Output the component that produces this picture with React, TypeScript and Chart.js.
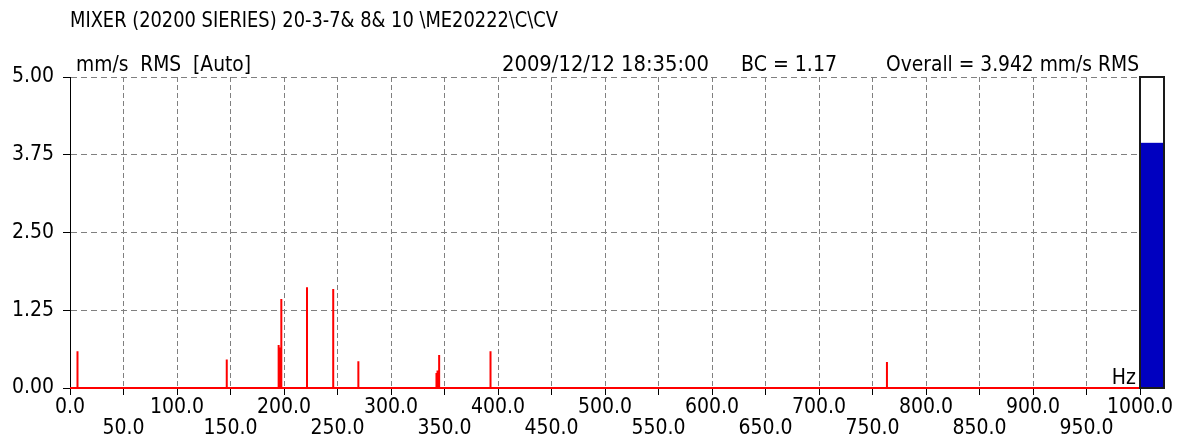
import React, { useEffect, useRef } from 'react';
import { Chart, registerables } from 'chart.js';

Chart.register(...registerables);

// ---- Text ----
const TITLE = 'MIXER (20200 SIERIES) 20-3-7& 8& 10 \\ME20222\\C\\CV';
const UNITS_LABEL = 'mm/s  RMS  [Auto]';
const TIMESTAMP = '2009/12/12 18:35:00';
const BC_LABEL = 'BC = 1.17';
const OVERALL_LABEL = 'Overall = 3.942 mm/s RMS';
const X_UNIT = 'Hz';

// ---- Data ----
const peakFrequencies = [7, 146.5, 195, 196, 197.5, 221.5, 246, 269.5, 342.5, 343.5, 345, 393, 763.5];
const peakAmplitudes = [0.59, 0.46, 0.69, 0.65, 1.43, 1.62, 1.59, 0.43, 0.24, 0.28, 0.53, 0.59, 0.42];
const overallValue = 3.942;

const freqMin = 0;
const freqMax = 1000;
const freqStep = 50;
const ampMin = 0;
const ampMax = 5;
const ampStep = 1.25;

const xTickLabels = [
  '0.0', '50.0', '100.0', '150.0', '200.0', '250.0', '300.0', '350.0', '400.0', '450.0', '500.0',
  '550.0', '600.0', '650.0', '700.0', '750.0', '800.0', '850.0', '900.0', '950.0', '1000.0',
];
const yTickLabels = ['0.00', '1.25', '2.50', '3.75', '5.00'];

const FONT_FAMILY = "'Liberation Sans Narrow', 'Arial Narrow', 'DejaVu Sans Condensed', 'Liberation Sans', sans-serif";

function buildSpectrum() {
  const pts: { x: number; y: number }[] = [{ x: freqMin, y: 0 }];
  peakFrequencies.forEach((f, i) => {
    pts.push({ x: f, y: 0 }, { x: f, y: peakAmplitudes[i] }, { x: f, y: 0 });
  });
  pts.push({ x: freqMax, y: 0 });
  return pts;
}

// draws text squeezed horizontally to a given width (mimics the narrow bitmap font)
function drawFitted(ctx: CanvasRenderingContext2D, text: string, x: number, y: number, width: number, align: 'left' | 'right') {
  const measured = ctx.measureText(text).width;
  const s = Math.min(1, width / measured);
  ctx.save();
  ctx.textAlign = 'left';
  const startX = align === 'left' ? x : x - measured * s;
  ctx.translate(startX, y);
  ctx.scale(s, 1);
  ctx.fillText(text, 0, 0);
  ctx.restore();
}

const overlayPlugin = {
  id: 'overlay',
  afterDatasetsDraw(chart: any) {
    const { ctx, chartArea, scales } = chart;
    const y = scales.y;
    const top = y.getPixelForValue(ampMax);
    const bottom = y.getPixelForValue(ampMin);
    const left = chartArea.right;
    const width = 24;
    const level = y.getPixelForValue(overallValue);
    ctx.save();
    ctx.fillStyle = '#ffffff';
    ctx.fillRect(left, top, width, bottom - top);
    ctx.fillStyle = '#0000c0';
    ctx.fillRect(left, level, width, bottom - level);
    ctx.strokeStyle = '#1a1a1a';
    ctx.lineWidth = 2;
    ctx.strokeRect(left, top, width, bottom - top);
    ctx.restore();
  },
  afterDraw(chart: any) {
    const { ctx, chartArea } = chart;
    ctx.save();
    ctx.fillStyle = '#000';
    ctx.textBaseline = 'alphabetic';
    ctx.font = `22px ${FONT_FAMILY}`;
    drawFitted(ctx, TITLE, chartArea.left, 27, 488, 'left');
    const hy = chartArea.top - 6;
    drawFitted(ctx, UNITS_LABEL, chartArea.left + 6, hy, 175, 'left');
    drawFitted(ctx, TIMESTAMP, 502, hy, 207, 'left');
    drawFitted(ctx, BC_LABEL, 741, hy, 96, 'left');
    drawFitted(ctx, OVERALL_LABEL, chartArea.right - 1, hy, 253, 'right');
    ctx.font = `21px ${FONT_FAMILY}`;
    drawFitted(ctx, X_UNIT, chartArea.right - 4, chartArea.bottom - 4, 27, 'right');
    ctx.restore();
  },
};

export default function App() {
  const canvasRef = useRef<HTMLCanvasElement | null>(null);

  useEffect(() => {
    const canvas = canvasRef.current;
    if (!canvas) return;
    const chart = new Chart(canvas, {
      type: 'line',
      data: {
        datasets: [
          {
            label: 'Spectrum',
            data: buildSpectrum(),
            borderColor: '#ff0000',
            borderWidth: 2,
            pointRadius: 0,
            tension: 0,
            fill: false,
            clip: 4,
          },
        ],
      },
      options: {
        animation: false,
        responsive: false,
        devicePixelRatio: 1,
        layout: { padding: { left: 0, right: 38, top: 77, bottom: 0 } },
        plugins: {
          legend: { display: false },
          tooltip: { enabled: false },
          title: { display: false },
        },
        scales: {
          x: {
            type: 'linear',
            min: freqMin,
            max: freqMax,
            afterBuildTicks(scale: any) {
              const ticks = [];
              for (let v = freqMin; v <= freqMax; v += freqStep) ticks.push({ value: v });
              scale.ticks = ticks;
            },
            afterFit(scale: any) {
              scale.height = 60;
            },
            grid: {
              color: '#808080',
              lineWidth: 1,
              tickColor: '#000',
              tickLength: 7,
              tickWidth: 1,
              tickBorderDash: [],
            },
            border: { display: true, color: '#000', width: 1, dash: [5, 3] },
            ticks: {
              autoSkip: false,
              maxRotation: 0,
              minRotation: 0,
              padding: 2,
              color: '#000',
              font: { family: FONT_FAMILY, size: 21, lineHeight: 1.0 },
              callback: (_v: any, i: number) => (i % 2 === 0 ? [xTickLabels[i], ''] : ['', xTickLabels[i]]),
            },
          },
          y: {
            type: 'linear',
            min: ampMin,
            max: ampMax,
            afterBuildTicks(scale: any) {
              const ticks = [];
              for (let v = ampMin; v <= ampMax + 1e-9; v += ampStep) ticks.push({ value: v });
              scale.ticks = ticks;
            },
            afterFit(scale: any) {
              scale.width = 70;
            },
            grid: {
              color: '#808080',
              lineWidth: 1,
              tickColor: '#000',
              tickLength: 7,
              tickWidth: 1,
              tickBorderDash: [],
            },
            border: { display: true, color: '#000', width: 1, dash: [6, 4] },
            ticks: {
              autoSkip: false,
              padding: 9,
              color: '#000',
              font: { family: FONT_FAMILY, size: 21 },
              callback: (_v: any, i: number) => yTickLabels[i],
            },
          },
        },
      },
      plugins: [overlayPlugin],
    });
    return () => chart.destroy();
  }, []);

  return (
    <div style={{ position: 'fixed', left: 0, top: 0, width: 1178, height: 448, background: '#fff' }}>
      <canvas ref={canvasRef} width={1178} height={448} style={{ width: 1178, height: 448, display: 'block' }} />
    </div>
  );
}
